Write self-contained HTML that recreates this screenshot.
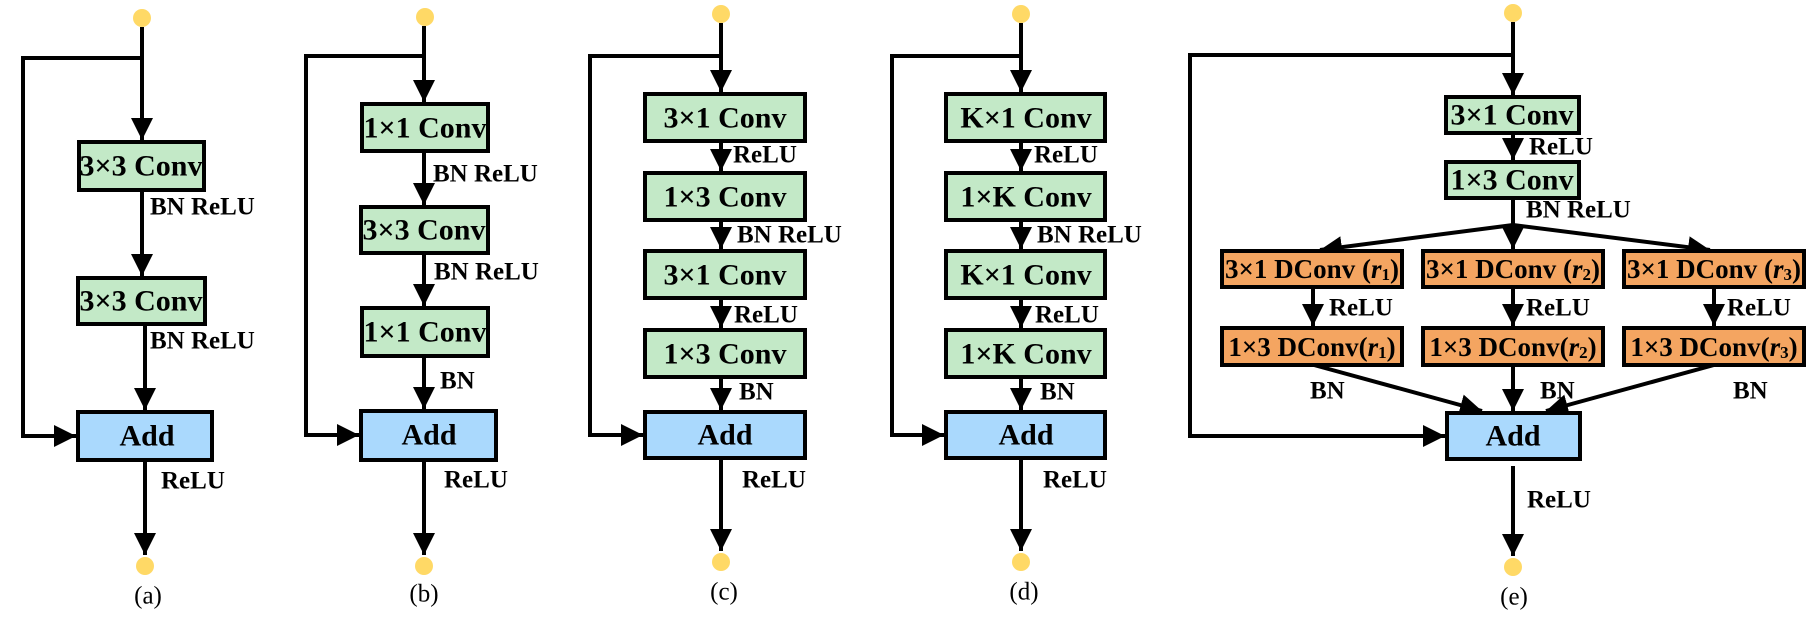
<!DOCTYPE html>
<html><head><meta charset="utf-8"><style>
html,body{margin:0;padding:0;background:#fff;}
svg{display:block;}
.b{font-family:"Liberation Serif","Times New Roman","DejaVu Serif",serif;font-weight:bold;fill:#000;}
.t{font-size:30px;text-anchor:middle;dominant-baseline:central;}
.l{font-size:25px;dominant-baseline:central;}
.o{font-size:27px;text-anchor:middle;dominant-baseline:central;}
.c{font-family:"Liberation Serif","Times New Roman","DejaVu Serif",serif;font-size:25px;text-anchor:middle;dominant-baseline:central;}
.g{fill:#C3E9C7;stroke:#000;stroke-width:4;}
.a{fill:#AAD9FD;stroke:#000;stroke-width:4;}
.r{fill:#F4A561;stroke:#000;stroke-width:4;}
.ln{stroke:#000;stroke-width:4;fill:none;}
.d{fill:#FFD966;}
</style></head><body>
<svg width="1815" height="624" viewBox="0 0 1815 624" xmlns="http://www.w3.org/2000/svg">
<defs>
<marker id="ar" viewBox="0 0 10 10" refX="10" refY="5" markerWidth="5.5" markerHeight="5.5" markerUnits="strokeWidth" orient="auto">
<path d="M0,0 L10,5 L0,10 Z" fill="#000"/></marker>
</defs>

<!-- (a) -->
<circle class="d" cx="142" cy="18" r="9"/>
<path class="ln" d="M142,27 V140" marker-end="url(#ar)"/>
<path class="ln" d="M142,58 H23 V436 H76" marker-end="url(#ar)"/>
<rect class="g" x="79" y="142" width="125" height="48"/>
<text class="b t" x="141" y="166">3×3 Conv</text>
<path class="ln" d="M142,190 V276" marker-end="url(#ar)"/>
<text class="b l" x="150" y="207">BN ReLU</text>
<rect class="g" x="78" y="278" width="127" height="46"/>
<text class="b t" x="141" y="301">3×3 Conv</text>
<path class="ln" d="M145,324 V410" marker-end="url(#ar)"/>
<text class="b l" x="150" y="341">BN ReLU</text>
<rect class="a" x="78" y="412" width="134" height="48"/>
<text class="b t" x="147" y="436">Add</text>
<path class="ln" d="M145,460 V555" marker-end="url(#ar)"/>
<text class="b l" x="161" y="481">ReLU</text>
<circle class="d" cx="145" cy="566" r="9"/>
<text class="c" x="148" y="596">(a)</text>

<!-- (b) -->
<circle class="d" cx="425" cy="17" r="9"/>
<path class="ln" d="M424,26 V102" marker-end="url(#ar)"/>
<path class="ln" d="M424,56 H306 V435 H359" marker-end="url(#ar)"/>
<rect class="g" x="362" y="104" width="126" height="47"/>
<text class="b t" x="425" y="128">1×1 Conv</text>
<path class="ln" d="M424,151 V205" marker-end="url(#ar)"/>
<text class="b l" x="433" y="174">BN ReLU</text>
<rect class="g" x="361" y="207" width="127" height="46"/>
<text class="b t" x="424" y="230">3×3 Conv</text>
<path class="ln" d="M424,253 V306" marker-end="url(#ar)"/>
<text class="b l" x="434" y="272">BN ReLU</text>
<rect class="g" x="362" y="308" width="126" height="48"/>
<text class="b t" x="425" y="332">1×1 Conv</text>
<path class="ln" d="M424,356 V409" marker-end="url(#ar)"/>
<text class="b l" x="440" y="381">BN</text>
<rect class="a" x="361" y="411" width="135" height="49"/>
<text class="b t" x="429" y="435">Add</text>
<path class="ln" d="M424,460 V555" marker-end="url(#ar)"/>
<text class="b l" x="444" y="480">ReLU</text>
<circle class="d" cx="424" cy="566" r="9"/>
<text class="c" x="424" y="594">(b)</text>

<!-- (c) -->
<circle class="d" cx="721" cy="14" r="9"/>
<path class="ln" d="M721,23 V92" marker-end="url(#ar)"/>
<path class="ln" d="M721,56 H590 V435 H643" marker-end="url(#ar)"/>
<rect class="g" x="645" y="94" width="160" height="47"/>
<text class="b t" x="725" y="118">3×1 Conv</text>
<path class="ln" d="M721,141 V171" marker-end="url(#ar)"/>
<text class="b l" x="733" y="155">ReLU</text>
<rect class="g" x="645" y="173" width="160" height="47"/>
<text class="b t" x="725" y="197">1×3 Conv</text>
<path class="ln" d="M721,220 V249" marker-end="url(#ar)"/>
<text class="b l" x="737" y="235">BN ReLU</text>
<rect class="g" x="645" y="251" width="160" height="47"/>
<text class="b t" x="725" y="275">3×1 Conv</text>
<path class="ln" d="M721,298 V328" marker-end="url(#ar)"/>
<text class="b l" x="734" y="315">ReLU</text>
<rect class="g" x="645" y="330" width="160" height="47"/>
<text class="b t" x="725" y="354">1×3 Conv</text>
<path class="ln" d="M721,377 V410" marker-end="url(#ar)"/>
<text class="b l" x="739" y="392">BN</text>
<rect class="a" x="645" y="412" width="160" height="46"/>
<text class="b t" x="725" y="435">Add</text>
<path class="ln" d="M721,458 V551" marker-end="url(#ar)"/>
<text class="b l" x="742" y="480">ReLU</text>
<circle class="d" cx="721" cy="562" r="9"/>
<text class="c" x="724" y="592">(c)</text>

<!-- (d) -->
<circle class="d" cx="1021" cy="14" r="9"/>
<path class="ln" d="M1021,23 V92" marker-end="url(#ar)"/>
<path class="ln" d="M1021,56 H892 V435 H944" marker-end="url(#ar)"/>
<rect class="g" x="946" y="94" width="159" height="47"/>
<text class="b t" x="1026" y="118">K×1 Conv</text>
<path class="ln" d="M1021,141 V171" marker-end="url(#ar)"/>
<text class="b l" x="1034" y="155">ReLU</text>
<rect class="g" x="946" y="173" width="159" height="47"/>
<text class="b t" x="1026" y="197">1×K Conv</text>
<path class="ln" d="M1021,220 V249" marker-end="url(#ar)"/>
<text class="b l" x="1037" y="235">BN ReLU</text>
<rect class="g" x="946" y="251" width="159" height="47"/>
<text class="b t" x="1026" y="275">K×1 Conv</text>
<path class="ln" d="M1021,298 V328" marker-end="url(#ar)"/>
<text class="b l" x="1035" y="315">ReLU</text>
<rect class="g" x="946" y="330" width="159" height="47"/>
<text class="b t" x="1026" y="354">1×K Conv</text>
<path class="ln" d="M1021,377 V410" marker-end="url(#ar)"/>
<text class="b l" x="1040" y="392">BN</text>
<rect class="a" x="946" y="412" width="159" height="46"/>
<text class="b t" x="1026" y="435">Add</text>
<path class="ln" d="M1021,458 V551" marker-end="url(#ar)"/>
<text class="b l" x="1043" y="480">ReLU</text>
<circle class="d" cx="1021" cy="562" r="9"/>
<text class="c" x="1024" y="592">(d)</text>

<!-- (e) -->
<circle class="d" cx="1513" cy="13" r="9"/>
<path class="ln" d="M1513,22 V95" marker-end="url(#ar)"/>
<path class="ln" d="M1513,55 H1190 V436 H1445" marker-end="url(#ar)"/>
<rect class="g" x="1446" y="97" width="133" height="36"/>
<text class="b t" x="1512" y="115">3×1 Conv</text>
<path class="ln" d="M1513,133 V160" marker-end="url(#ar)"/>
<text class="b l" x="1529" y="147">ReLU</text>
<rect class="g" x="1446" y="162" width="133" height="36"/>
<text class="b t" x="1512" y="180">1×3 Conv</text>
<path class="ln" d="M1513,198 V249" marker-end="url(#ar)"/>
<text class="b l" x="1526" y="210">BN ReLU</text>
<path class="ln" d="M1513,225 L1320,250" marker-end="url(#ar)"/>
<path class="ln" d="M1513,225 L1710,250" marker-end="url(#ar)"/>

<rect class="r" x="1222" y="251" width="180" height="36"/>
<text class="b o" x="1312" y="269">3×1 DConv (<tspan font-style="italic">r</tspan><tspan font-size="17" dy="5">1</tspan><tspan dy="-5">)</tspan></text>
<rect class="r" x="1423" y="251" width="180" height="36"/>
<text class="b o" x="1513" y="269">3×1 DConv (<tspan font-style="italic">r</tspan><tspan font-size="17" dy="5">2</tspan><tspan dy="-5">)</tspan></text>
<rect class="r" x="1624" y="251" width="180" height="36"/>
<text class="b o" x="1714" y="269">3×1 DConv (<tspan font-style="italic">r</tspan><tspan font-size="17" dy="5">3</tspan><tspan dy="-5">)</tspan></text>

<path class="ln" d="M1313,287 V326" marker-end="url(#ar)"/>
<path class="ln" d="M1513,287 V326" marker-end="url(#ar)"/>
<path class="ln" d="M1714,287 V326" marker-end="url(#ar)"/>
<text class="b l" x="1329" y="308">ReLU</text>
<text class="b l" x="1526" y="308">ReLU</text>
<text class="b l" x="1727" y="308">ReLU</text>

<rect class="r" x="1222" y="328" width="180" height="37"/>
<text class="b o" x="1312" y="347">1×3 DConv(<tspan font-style="italic">r</tspan><tspan font-size="17" dy="5">1</tspan><tspan dy="-5">)</tspan></text>
<rect class="r" x="1423" y="328" width="180" height="37"/>
<text class="b o" x="1513" y="347">1×3 DConv(<tspan font-style="italic">r</tspan><tspan font-size="17" dy="5">2</tspan><tspan dy="-5">)</tspan></text>
<rect class="r" x="1624" y="328" width="180" height="37"/>
<text class="b o" x="1714" y="347">1×3 DConv(<tspan font-style="italic">r</tspan><tspan font-size="17" dy="5">3</tspan><tspan dy="-5">)</tspan></text>

<path class="ln" d="M1314,365 L1482,411" marker-end="url(#ar)"/>
<path class="ln" d="M1513,365 V411" marker-end="url(#ar)"/>
<path class="ln" d="M1714,365 L1546,411" marker-end="url(#ar)"/>
<text class="b l" x="1310" y="391">BN</text>
<text class="b l" x="1540" y="391">BN</text>
<text class="b l" x="1733" y="391">BN</text>

<rect class="a" x="1447" y="413" width="133" height="46"/>
<text class="b t" x="1513" y="436">Add</text>
<path class="ln" d="M1513,466 V556" marker-end="url(#ar)"/>
<text class="b l" x="1527" y="500">ReLU</text>
<circle class="d" cx="1513" cy="567" r="9"/>
<text class="c" x="1514" y="597">(e)</text>
</svg>
</body></html>
